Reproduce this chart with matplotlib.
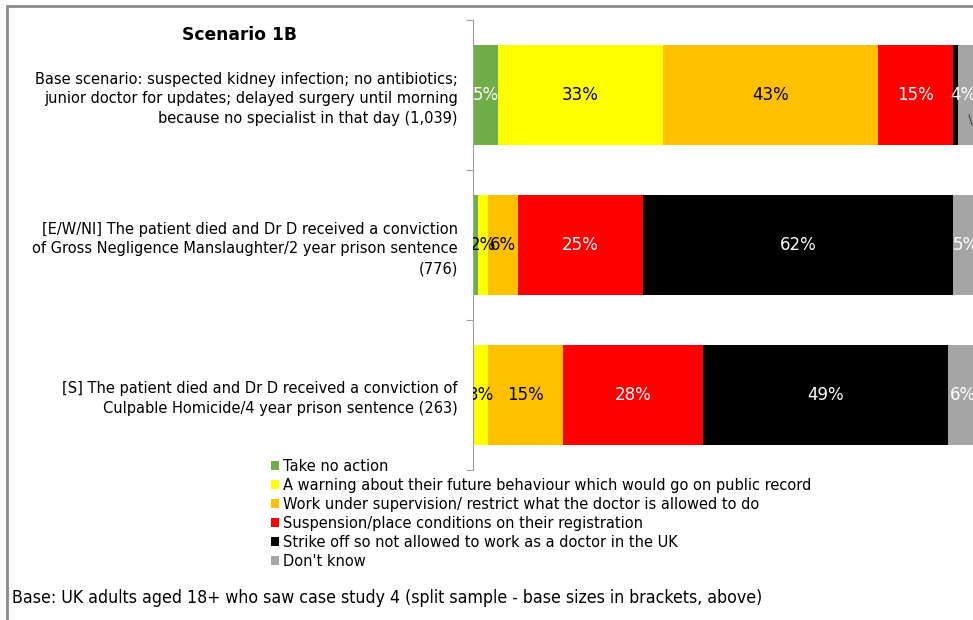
import numpy as np
import matplotlib
matplotlib.use("Agg")
import matplotlib.pyplot as plt
from matplotlib.patches import Rectangle

#------------------------------------------------ DATA ----------------------------------------------------#

scenarios = [
    "Base scenario: suspected kidney infection; no antibiotics;\n"
    "junior doctor for updates; delayed surgery until morning\n"
    "because no specialist in that day (1,039)",
    "[E/W/NI] The patient died and Dr D received a conviction\n"
    "of Gross Negligence Manslaughter/2 year prison sentence\n"
    "(776)",
    "[S] The patient died and Dr D received a conviction of\n"
    "Culpable Homicide/4 year prison sentence (263)",
]

responses = [
    "Take no action",
    "A warning about their future behaviour which would go on public record",
    "Work under supervision/ restrict what the doctor is allowed to do",
    "Suspension/place conditions on their registration",
    "Strike off so not allowed to work as a doctor in the UK",
    "Don't know",
]

take_no_action = [5, 1, 0]
warning = [33, 2, 3]
supervision = [43, 6, 15]
suspension = [15, 25, 28]
strike_off = [1, 62, 49]
dont_know = [4, 5, 6]

colors = ["#70AD47", "#FFFF00", "#FFC000", "#FF0000", "#000000", "#A5A5A5"]
label_colors = ["white", "black", "black", "white", "white", "white"]

#----------------------------------------------- PLOT -----------------------------------------------------#

W, H = 973, 620
fig = plt.figure(figsize=(W / 100, H / 100), dpi=100)
plt.rcParams["font.family"] = "DejaVu Sans"

ax = fig.add_axes([473 / W, (H - 470) / H, 1 - 473 / W, 450 / H])

series = [take_no_action, warning, supervision, suspension, strike_off, dont_know]
ypos = np.arange(len(scenarios))
left = np.zeros(len(scenarios))
for i, vals in enumerate(series):
    vals = np.array(vals, dtype=float)
    ax.barh(ypos, vals, left=left, height=0.667, color=colors[i], label=responses[i])
    for j, v in enumerate(vals):
        if v >= 2 and not (i == 5 and j == 0):
            ax.text(left[j] + v / 2, ypos[j], f"{int(v)}%", ha="center", va="center",
                    color=label_colors[i], fontsize=12, clip_on=True)
    left += vals

# the little "Don't know" label on the first bar sits with a leader line
ax.annotate(f"{dont_know[0]}%", xy=(99.8, 0.2), xytext=(98.0, 0.0),
            ha="center", va="center", color="white", fontsize=12,
            arrowprops=dict(arrowstyle="-", color="#404040", lw=0.8,
                            shrinkA=6, shrinkB=0))

ax.set_xlim(0, 100)
ax.set_ylim(2.5, -0.5)
ax.set_xticks([])
ax.set_yticks([-0.5, 0.5, 1.5, 2.5])
ax.set_yticklabels([])
ax.set_yticks(ypos, minor=True)
ax.set_yticklabels(scenarios, minor=True, fontsize=10.5, linespacing=1.41)
ax.tick_params(axis="y", which="major", length=5, color="#A0A0A0")
ax.tick_params(axis="y", which="minor", length=0, pad=11)
for s in ["top", "right", "bottom"]:
    ax.spines[s].set_visible(False)
ax.spines["left"].set_color("#A0A0A0")

fig.text(240 / W, 1 - 35 / H, "Scenario 1B", ha="center", va="center",
         fontsize=12.3, fontweight="bold")

fig.legend(loc="upper left", bbox_to_anchor=(271 / W, 1 - 459 / H), frameon=False,
           fontsize=10.55, handlelength=0.55, handleheight=0.55, handletextpad=0.3,
           labelspacing=0.27, borderpad=0, borderaxespad=0)

fig.text(12 / W, 1 - 598 / H,
         "Base: UK adults aged 18+ who saw case study 4 (split sample - base sizes in brackets, above)",
         ha="left", va="center", fontsize=12.7, fontstretch="condensed")

# chart area frame (cut off at the right and bottom in the original)
fig.patches.append(Rectangle((7 / W, -0.1), 1.2, 1 - 6 / H + 0.1, transform=fig.transFigure,
                             fill=False, edgecolor="#8C8C8C", lw=2))

fig.savefig("out.png", dpi=100)
